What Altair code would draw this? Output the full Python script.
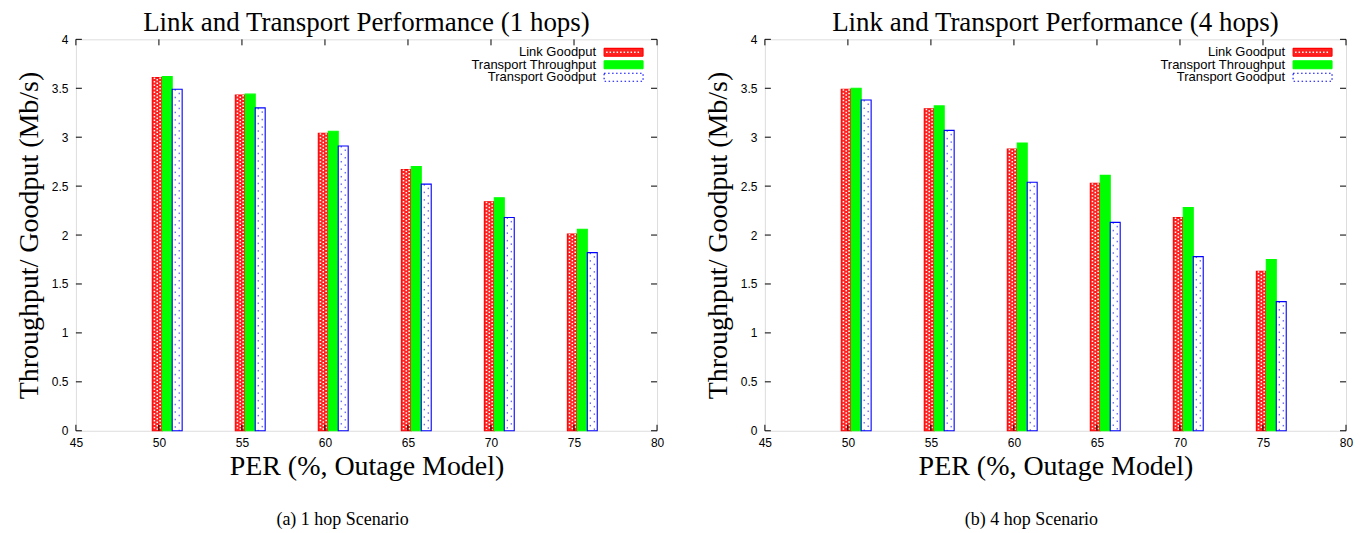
import altair as alt
import pandas as pd

# ---------------- data ----------------
per = [50, 55, 60, 65, 70, 75]
series = ["Link Goodput", "Transport Throughput", "Transport Goodput"]

link_goodput_1 = [3.61, 3.43, 3.04, 2.67, 2.34, 2.01]
transport_thr_1 = [3.62, 3.44, 3.06, 2.70, 2.38, 2.06]
transport_good_1 = [3.49, 3.30, 2.91, 2.52, 2.18, 1.82]

link_goodput_4 = [3.49, 3.29, 2.88, 2.53, 2.18, 1.63]
transport_thr_4 = [3.50, 3.32, 2.94, 2.61, 2.28, 1.75]
transport_good_4 = [3.38, 3.07, 2.54, 2.13, 1.78, 1.32]

titles = ["Link and Transport Performance (1 hops)",
          "Link and Transport Performance (4 hops)"]
captions = ["(a) 1 hop Scenario", "(b) 4 hop Scenario"]
x_ticks = [45, 50, 55, 60, 65, 70, 75, 80]
y_ticks = [0, 0.5, 1, 1.5, 2, 2.5, 3, 3.5, 4]
x_title = "PER (%, Outage Model)"
y_title = "Throughput/ Goodput (Mb/s)"

# ---------------- style ----------------
W, H = 582, 392
SERIF = "Liberation Serif"
SANS = "Liberation Sans"
offsets = [-0.1, 0.5, 1.1]   # bar centre offsets from the PER value
half = 0.3                   # half bar width in x units
TICK = 6

xscale = alt.Scale(domain=[45, 80], nice=False, zero=False)
yscale = alt.Scale(domain=[0, 4], nice=False, zero=False)

xaxis = alt.Axis(values=x_ticks, title=x_title, ticks=False, domain=False,
                 grid=False, format="~g", labelFont=SANS, labelFontSize=12,
                 labelColor="black", labelPadding=7, labelFlush=False,
                 labelOverlap=False,
                 titleFont=SERIF, titleFontSize=28, titleFontWeight="normal",
                 titleColor="black", titlePadding=4)
yaxis = alt.Axis(values=y_ticks, title=y_title, ticks=False, domain=False,
                 grid=False, format="~g", labelFont=SANS, labelFontSize=12,
                 labelColor="black", labelPadding=8, labelOverlap=False,
                 titleFont=SERIF, titleFontSize=28, titleFontWeight="normal",
                 titleColor="black", titlePadding=8)


def X(field):
    return alt.X(field, scale=xscale, axis=xaxis)


def Y(field):
    return alt.Y(field, scale=yscale, axis=yaxis)


def panel(vals, title, caption):
    rows = []
    for s, off, vs in zip(series, offsets, vals):
        for p, v in zip(per, vs):
            rows.append({"per": p, "series": s, "v": v,
                         "x0": p + off - half, "x1": p + off + half,
                         "xc": p + off})
    df = pd.DataFrame(rows)

    bars = alt.Chart(df).mark_rect(strokeWidth=1.1).encode(
        x=X("x0:Q"),
        x2="x1:Q",
        y=Y("v:Q"),
        y2=alt.datum(0),
        fill=alt.Fill("series:N", scale=alt.Scale(domain=series,
                      range=["#ff2020", "#00ff00", "#ffffff"]), legend=None),
        stroke=alt.Stroke("series:N", scale=alt.Scale(domain=series,
                          range=["#ff0000", "#00ff00", "#0000ff"]), legend=None),
        strokeDash=alt.StrokeDash("series:N", scale=alt.Scale(domain=series,
                                  range=[[1, 0], [1, 0], [1.5, 2.5]]), legend=None),
    )

    red = df[df.series == series[0]]
    blue = df[df.series == series[2]]
    layers = [bars]
    # crosshatch texture on red bars
    for d, dash_off in [(-0.17, 0), (0.0, 2), (0.17, 0)]:
        layers.append(
            alt.Chart(red).transform_calculate(xt=f"datum.xc + ({d})")
            .mark_rule(color="white", strokeWidth=1.5, strokeDash=[1.5, 2],
                       strokeDashOffset=dash_off)
            .encode(x=X("xt:Q"), y=Y("v:Q"), y2=alt.value(H - 1))
        )
    # dotted texture on blue bars
    for d, dash_off in [(-0.12, 0), (0.12, 4)]:
        layers.append(
            alt.Chart(blue).transform_calculate(xt=f"datum.xc + ({d})")
            .mark_rule(color="#0000ff", strokeWidth=1, strokeDash=[1.5, 6],
                       strokeDashOffset=dash_off, opacity=0.8)
            .encode(x=X("xt:Q"), y=Y("v:Q"), y2=alt.value(H))
        )

    # inward tick marks on all four sides (gnuplot style)
    xt_df = pd.DataFrame({"t": x_ticks})
    yt_df = pd.DataFrame({"t": y_ticks})
    for y1, y2 in [(H, H - TICK), (0, TICK)]:
        layers.append(alt.Chart(xt_df).mark_rule(color="black", strokeWidth=1).encode(
            x=X("t:Q"), y=alt.value(y1), y2=alt.value(y2)))
    for x1, x2 in [(0, TICK), (W, W - TICK)]:
        layers.append(alt.Chart(yt_df).mark_rule(color="black", strokeWidth=1).encode(
            y=Y("t:Q"), x=alt.value(x1), x2=alt.value(x2)))

    # key (label left, swatch right)
    tx, sx0, sx1 = 521, 529, 568
    swatch_fill = ["#ff2020", "#00ff00", "#ffffff"]
    swatch_stroke = ["#ff0000", "#00ff00", "#0000ff"]
    swatch_dash = [[1, 0], [1, 0], [1.5, 2.5]]
    for i, s in enumerate(series):
        ly = 13 + 12.5 * i
        one = pd.DataFrame({"s": [s]})
        layers.append(alt.Chart(one).mark_text(align="right", baseline="middle",
                                               font=SANS, fontSize=13, color="black")
                      .encode(text="s:N", x=alt.value(tx), y=alt.value(ly)))
        layers.append(alt.Chart(one).mark_rect(fill=swatch_fill[i], stroke=swatch_stroke[i],
                                               strokeWidth=1.1, strokeDash=swatch_dash[i])
                      .encode(x=alt.value(sx0), x2=alt.value(sx1),
                              y=alt.value(ly - 4), y2=alt.value(ly + 4)))
        if i == 0:
            layers.append(alt.Chart(one).mark_rule(color="white", strokeWidth=1.5,
                                                   strokeDash=[1.5, 2])
                          .encode(x=alt.value(sx0 + 2), x2=alt.value(sx1 - 2),
                                  y=alt.value(ly)))

    # sub-figure caption
    cap = pd.DataFrame({"c": [caption]})
    layers.append(alt.Chart(cap).mark_text(align="center", baseline="middle",
                                           font=SERIF, fontSize=18, color="black")
                  .encode(text="c:N", x=alt.value(W / 2 - 24), y=alt.value(H + 89)))

    return alt.layer(*layers).properties(
        width=W, height=H,
        title=alt.TitleParams(title, font=SERIF, fontSize=27, fontWeight="normal",
                              color="black", anchor="middle", offset=-4),
    )


left = panel([link_goodput_1, transport_thr_1, transport_good_1], titles[0], captions[0])
right = panel([link_goodput_4, transport_thr_4, transport_good_4], titles[1], captions[1])

chart = alt.hconcat(left, right, spacing=38).properties(
    padding={"left": 6, "top": 0, "right": 0, "bottom": 0}
).configure_view(stroke="black", strokeWidth=1.2).configure(background="white")

chart.save("out.html", embed_options={"renderer": "svg", "actions": False})
